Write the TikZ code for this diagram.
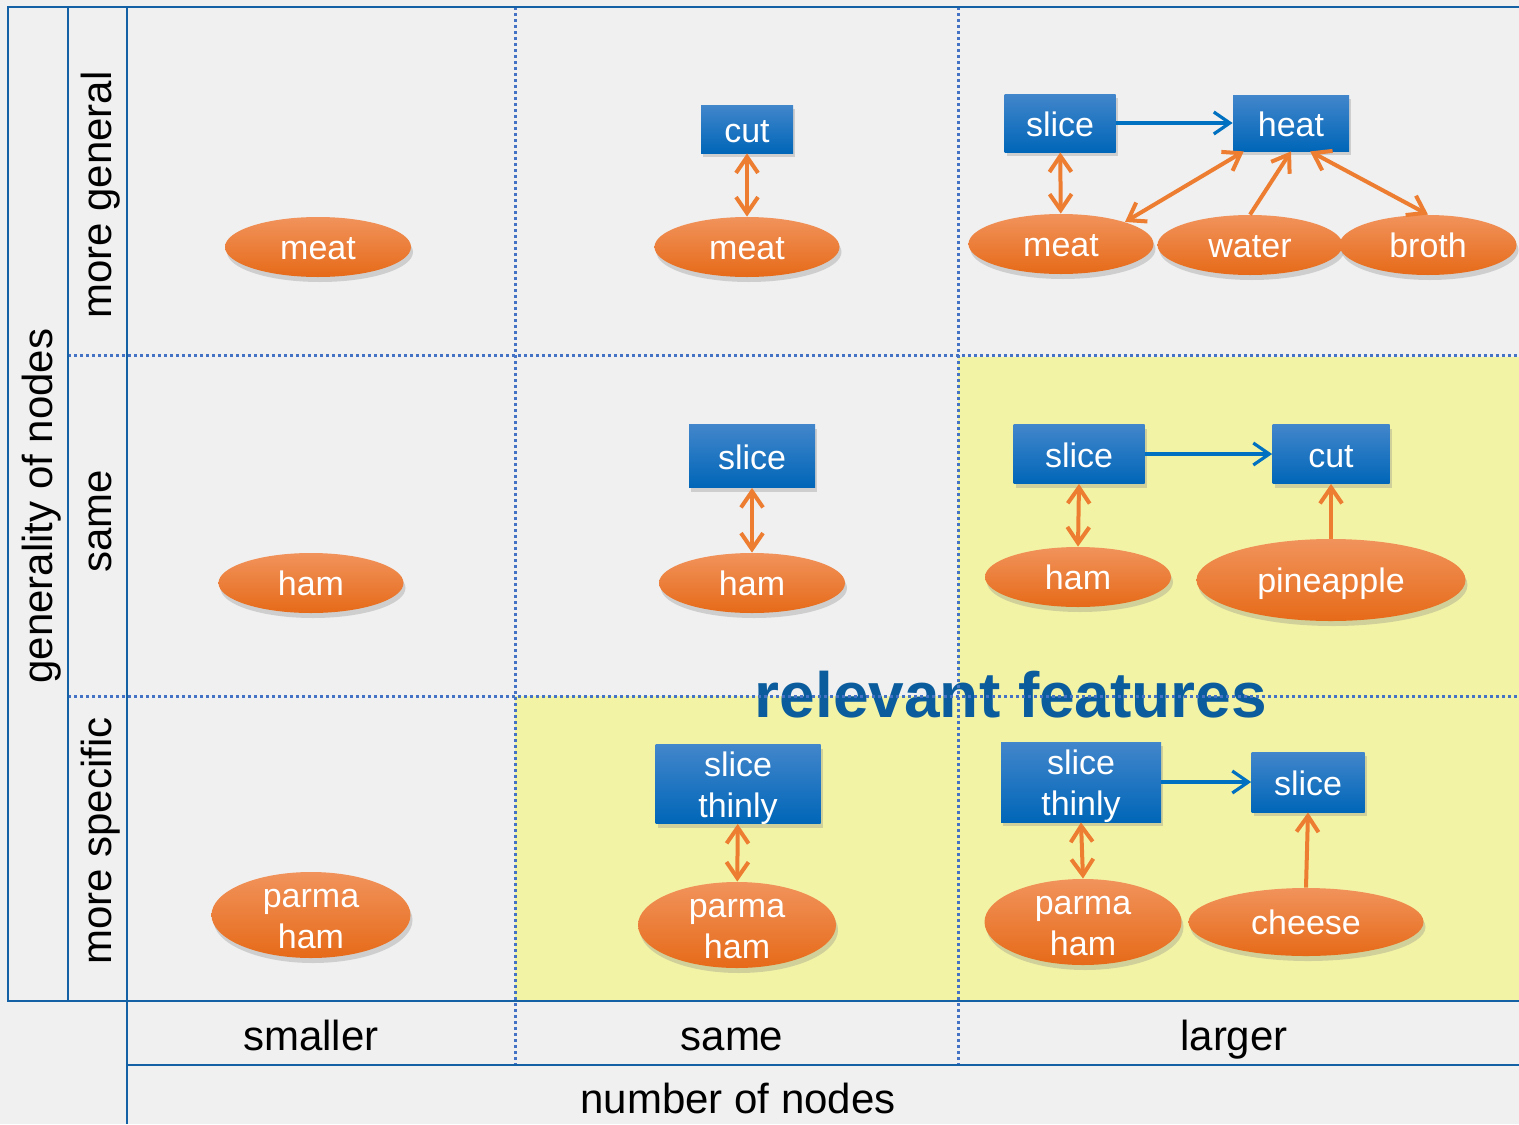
\documentclass[tikz,border=0pt]{standalone}
\usepackage{fontspec}
\setmainfont{Liberation Sans}
\usetikzlibrary{shapes.geometric,arrows.meta,shadows}

\definecolor{gridblue}{HTML}{1461A5}
\definecolor{dotblue}{HTML}{4472C4}
\definecolor{paleyellow}{HTML}{F3F3A6}
\definecolor{bggrey}{HTML}{F0F0F0}
\definecolor{featblue}{HTML}{0A5C9C}
\definecolor{linkorange}{HTML}{ED7D31}
\definecolor{flowblue}{HTML}{0070C0}
\definecolor{actiontop}{HTML}{4286CB}
\definecolor{actionbot}{HTML}{0066B8}
\definecolor{foodtop}{HTML}{F1935C}
\definecolor{foodmid}{HTML}{F27F2E}
\definecolor{foodbot}{HTML}{E66A18}

% two lines of node text, last baseline 16.5pt below the node centre
\newcommand{\twolines}[2]{\raisebox{-16.5pt}[0pt][0pt]{\begin{tabular}[b]{@{}c@{}}#1\\#2\end{tabular}}}

\begin{document}
\begin{tikzpicture}[x=0.5pt, y=-0.5pt,
  action/.style={rectangle, inner sep=0pt, top color=actiontop, bottom color=actionbot, text=white, text height=13pt, text depth=0pt, font=\fontsize{17}{20.5}\selectfont, drop shadow={shadow xshift=1pt, shadow yshift=-2pt, opacity=0.3}},
  food/.style={ellipse, inner sep=0pt, top color=foodtop, middle color=foodmid, bottom color=foodbot, text=white, text height=12pt, text depth=0pt, font=\fontsize{17}{20.5}\selectfont, drop shadow={shadow xshift=1pt, shadow yshift=-2.5pt, opacity=0.3}},
  twoline/.style={text height=0pt, text depth=0pt},
  link/.style={draw=linkorange, line width=2pt, {Straight Barb[length=8pt,width=11pt]}-{Straight Barb[length=8pt,width=11pt]}},
  feed/.style={draw=linkorange, line width=2pt, -{Straight Barb[length=8pt,width=11pt]}},
  flow/.style={draw=flowblue, line width=1.6pt, -{Straight Barb[length=8pt,width=11pt]}},
  frame/.style={draw=gridblue, line width=1.2pt},
  divider/.style={draw=dotblue, line width=1.5pt, dash pattern=on 1.5pt off 1.5pt},
  axis/.style={font=\fontsize{21}{24}\selectfont, inner sep=0pt}]

% page and highlighted cells
\useasboundingbox (0,0) rectangle (1519,1124);
\fill[bggrey] (0,0) rectangle (1519,1124);
\fill[paleyellow] (958,357) rectangle (1519,1001);
\fill[paleyellow] (515,696) rectangle (958,1001);

% axis labels
\node[axis, rotate=90, anchor=base] (ylabel) at (52,506) {generality of nodes};
\node[axis, rotate=90, anchor=base] (ygeneral) at (111,195) {more general};
\node[axis, rotate=90, anchor=base] (ysame) at (111,521) {same};
\node[axis, rotate=90, anchor=base] (yspecific) at (111,841) {more specific};
\node[axis, anchor=base] (xsmaller) at (311,1050) {smaller};
\node[axis, anchor=base] (xsame) at (732,1050) {same};
\node[axis, anchor=base] (xlarger) at (1234,1050) {larger};
\node[axis, anchor=base] (xlabel) at (738,1113) {number of nodes};
\node[anchor=base, text=featblue, font=\fontsize{32}{36}\selectfont\bfseries, inner sep=0pt] (relevant) at (1011,717) {relevant features};

% table lines
\draw[divider] (68,355) -- (1519,355);
\draw[divider] (68,696) -- (1519,696);
\draw[divider] (515,7) -- (515,1065);
\draw[divider] (958,7) -- (958,1065);
\draw[frame] (1519,7) -- (8,7) -- (8,1001) -- (1519,1001);
\draw[frame] (68,7) -- (68,1001);
\draw[frame] (127,7) -- (127,1124);
\draw[frame] (127,1065) -- (1519,1065);

% more general
\node[food, minimum width=93pt, minimum height=30pt] (meat11) at (318,247) {meat};
\node[action, minimum width=46pt, minimum height=24pt] (cut12) at (747,129) {cut};
\node[food, minimum width=92.5pt, minimum height=30pt] (meat12) at (747,247) {meat};
\node[action, minimum width=55.5pt, minimum height=29pt] (slice13) at (1060,123) {slice};
\node[action, minimum width=58pt, minimum height=28pt] (heat13) at (1291,123) {heat};
\node[food, minimum width=92.5pt, minimum height=30pt] (meat13) at (1061,244) {meat};
\node[food, minimum width=92.5pt, minimum height=30pt] (water13) at (1250,245) {water};
\node[food, minimum width=88.5pt, minimum height=30pt] (broth13) at (1428,245) {broth};

% same
\node[food, minimum width=92.5pt, minimum height=30pt] (ham21) at (311,583) {ham};
\node[action, minimum width=63pt, minimum height=31.5pt] (slice22) at (752,456) {slice};
\node[food, minimum width=93pt, minimum height=30pt] (ham22) at (752,583) {ham};
\node[action, minimum width=65.5pt, minimum height=29.5pt] (slice23) at (1079,454) {slice};
\node[action, minimum width=58.5pt, minimum height=29.5pt] (cut23) at (1331,454) {cut};
\node[food, minimum width=93pt, minimum height=30pt] (ham23) at (1078,577) {ham};
\node[food, minimum width=134.5pt, minimum height=41pt] (pine23) at (1331,580) {pineapple};

% more specific
\node[food, twoline, minimum width=99.5pt, minimum height=43pt] (parma31) at (311,915) {\twolines{parma}{ham}};
\node[action, twoline, minimum width=82.5pt, minimum height=39.5pt] (thin32) at (738,784) {\twolines{slice}{thinly}};
\node[food, twoline, minimum width=99pt, minimum height=43pt] (parma32) at (737,925) {\twolines{parma}{ham}};
\node[action, twoline, minimum width=80pt, minimum height=40pt] (thin33) at (1081,782) {\twolines{slice}{thinly}};
\node[action, minimum width=56.5pt, minimum height=30pt] (slice33) at (1308,782) {slice};
\node[food, twoline, minimum width=98.5pt, minimum height=43pt] (parma33) at (1083,922) {\twolines{parma}{ham}};
\node[food, minimum width=117.5pt, minimum height=34pt] (cheese33) at (1306,922) {cheese};

% connectors
\draw[link] (cut12) -- (meat12);
\draw[flow] (slice13) -- (heat13);
\draw[link] (slice13) -- (meat13);
\draw[link] (meat13.19) -- (heat13.211);
\draw[feed] (water13.north) -- (heat13.south);
\draw[link] (heat13.304) -- (broth13.north);
\draw[link] (slice22) -- (ham22);
\draw[flow] (slice23) -- (cut23);
\draw[link] (slice23.south) -- (ham23.north);
\draw[feed] (pine23.north) -- (cut23.south);
\draw[link] (thin32) -- (parma32);
\draw[flow] (thin33) -- (slice33);
\draw[link] (thin33.south) -- (parma33.north);
\draw[feed] (cheese33.north) -- (slice33.south);
\end{tikzpicture}
\end{document}
